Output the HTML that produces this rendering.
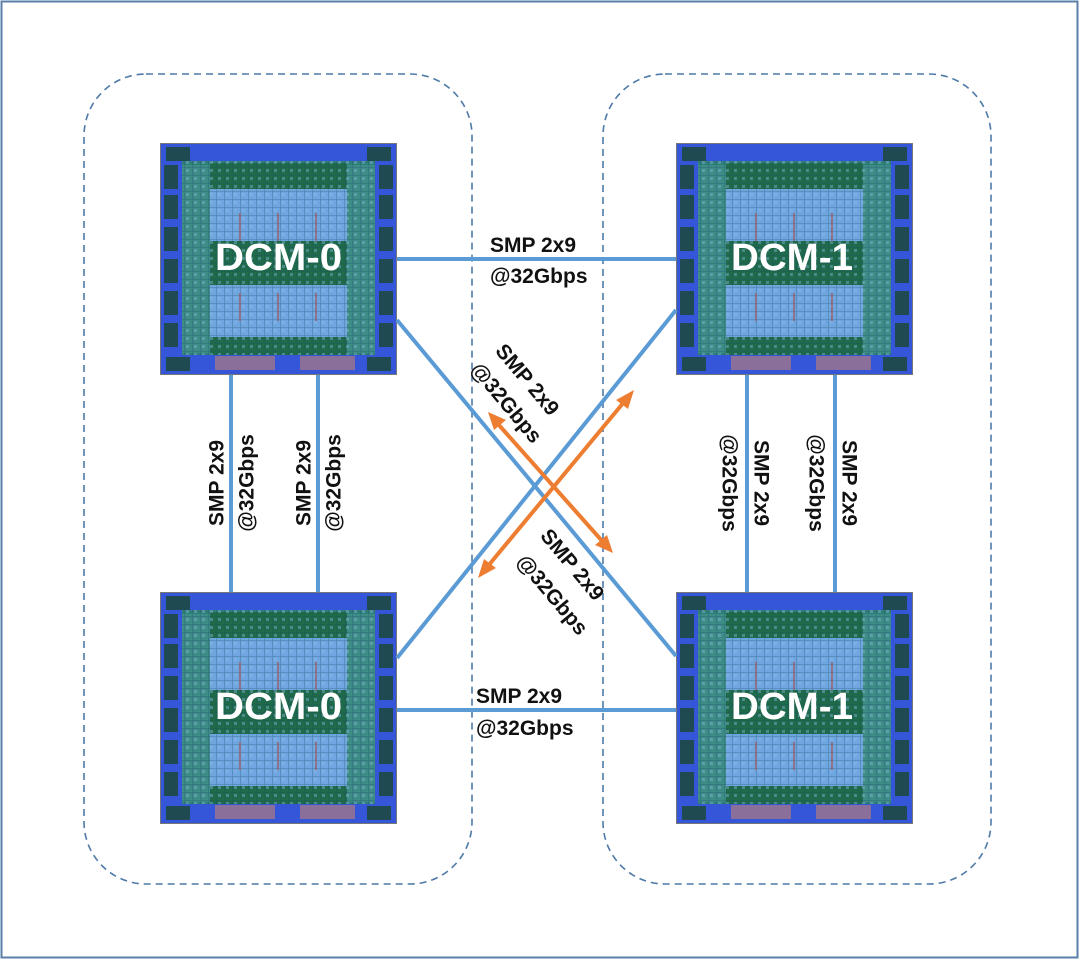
<!DOCTYPE html>
<html><head><meta charset="utf-8"><style>html,body{margin:0;padding:0;background:#fff}svg{display:block}</style></head>
<body>
<svg width="1080" height="960" viewBox="0 0 1080 960" xmlns="http://www.w3.org/2000/svg" font-family="Liberation Sans, sans-serif">
<defs>
<pattern id="grid" width="8" height="8" patternUnits="userSpaceOnUse">
<rect width="8" height="8" fill="none"/><path d="M0 0H8M0 0V8" stroke="#1c4a6a" stroke-width="1" opacity="0.5"/>
<rect x="2" y="2" width="3" height="3" fill="#8fb8e8" opacity="0.4"/>
</pattern>
<symbol id="chip" viewBox="0 0 237 232" width="237" height="232">
<rect x="0" y="0" width="237" height="232" fill="#3556d8"/>
<rect x="0.5" y="0.5" width="236" height="231" fill="none" stroke="#777" stroke-width="1"/>
<g fill="#1f4a52">
<rect x="6" y="4" width="24" height="14"/><rect x="207" y="4" width="24" height="14"/>
<rect x="6" y="214" width="24" height="14"/><rect x="207" y="214" width="24" height="14"/>
<rect x="4" y="22" width="14" height="24"/><rect x="4" y="52" width="14" height="24"/><rect x="4" y="84" width="14" height="24"/><rect x="4" y="116" width="14" height="24"/><rect x="4" y="148" width="14" height="24"/><rect x="4" y="180" width="14" height="24"/>
<rect x="219" y="22" width="14" height="24"/><rect x="219" y="52" width="14" height="24"/><rect x="219" y="84" width="14" height="24"/><rect x="219" y="116" width="14" height="24"/><rect x="219" y="148" width="14" height="24"/><rect x="219" y="180" width="14" height="24"/>
</g>
<g fill="#8a6f9a"><rect x="55" y="213" width="60" height="14"/><rect x="140" y="213" width="55" height="14"/></g>
<rect x="22" y="18" width="193" height="194" fill="#2e7f78"/>
<rect x="22" y="22" width="28" height="188" fill="#3d8c86"/>
<rect x="187" y="22" width="28" height="188" fill="#3d8c86"/>
<rect x="50" y="20" width="137" height="26" fill="#1f6a4a"/>
<rect x="50" y="46" width="137" height="52" fill="#6fa6e0"/>
<rect x="50" y="98" width="137" height="44" fill="#1f6a4a"/>
<rect x="50" y="142" width="137" height="52" fill="#6fa6e0"/>
<rect x="50" y="194" width="137" height="18" fill="#1f6a4a"/>
<rect x="22" y="18" width="193" height="194" fill="url(#grid)"/>
<g stroke="#a05050" stroke-width="1.2"><path d="M80 70V98M118 70V98M156 70V98M80 150V178M118 150V178M156 150V178"/></g>
</symbol>
</defs>
<rect x="1.5" y="1.5" width="1076" height="956" fill="#fff" stroke="#5a7fa8" stroke-width="2"/>
<rect x="84" y="74" width="388" height="810" rx="62" fill="none" stroke="#4f7aa8" stroke-width="1.6" stroke-dasharray="7 5"/>
<rect x="603" y="74" width="388" height="810" rx="62" fill="none" stroke="#4f7aa8" stroke-width="1.6" stroke-dasharray="7 5"/>
<use href="#chip" x="160" y="143"/>
<use href="#chip" x="676" y="143"/>
<use href="#chip" x="160" y="592"/>
<use href="#chip" x="676" y="592"/>
<g stroke="#5b9bd5" stroke-width="4" fill="none">
<path d="M397 259H676M397 710H676M231 375V592M318 375V592M747 375V592M835 375V592"/>
<path d="M397 320L676 656M397 658L676 310"/>
</g>
<g stroke="#ed7d31" stroke-width="4" fill="#ed7d31">
<path d="M498 424L603 542M488 566L624 402"/>
<polygon points="488,412 506,420 494,430" stroke="none"/>
<polygon points="613,553 595,545 607,535" stroke="none"/>
<polygon points="478,578 484,559 496,568" stroke="none"/>
<polygon points="634,390 628,409 616,400" stroke="none"/>
</g>
<g font-weight="bold" font-size="21" fill="#111">
<text x="490" y="252">SMP 2x9</text><text x="490" y="283">@32Gbps</text>
<text x="476" y="703">SMP 2x9</text><text x="476" y="735">@32Gbps</text>
<g text-anchor="middle" dominant-baseline="central">
<text transform="translate(217,483) rotate(-90)">SMP 2x9</text>
<text transform="translate(247,483) rotate(-90)">@32Gbps</text>
<text transform="translate(304,483) rotate(-90)">SMP 2x9</text>
<text transform="translate(334,483) rotate(-90)">@32Gbps</text>
<text transform="translate(761,483) rotate(90)">SMP 2x9</text>
<text transform="translate(729,483) rotate(90)">@32Gbps</text>
<text transform="translate(849,483) rotate(90)">SMP 2x9</text>
<text transform="translate(816,483) rotate(90)">@32Gbps</text>
<text transform="translate(527,380) rotate(50)">SMP 2x9</text>
<text transform="translate(506,403) rotate(50)">@32Gbps</text>
<text transform="translate(572,565) rotate(50)">SMP 2x9</text>
<text transform="translate(552,595) rotate(50)">@32Gbps</text>
</g>
</g>
<g font-weight="bold" font-size="38" fill="#fff">
<text x="215" y="270" textLength="127" lengthAdjust="spacingAndGlyphs">DCM-0</text>
<text x="731" y="270" textLength="122" lengthAdjust="spacingAndGlyphs">DCM-1</text>
<text x="215" y="719" textLength="127" lengthAdjust="spacingAndGlyphs">DCM-0</text>
<text x="731" y="719" textLength="122" lengthAdjust="spacingAndGlyphs">DCM-1</text>
</g>
</svg>
</body></html>
